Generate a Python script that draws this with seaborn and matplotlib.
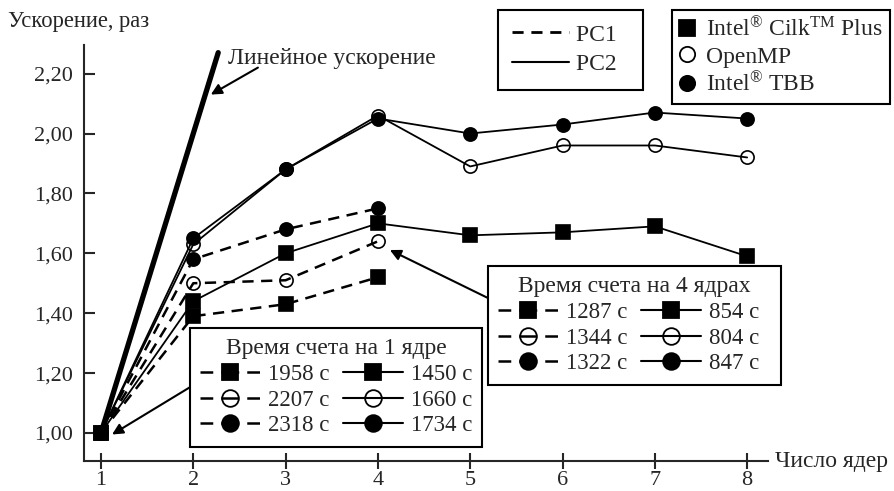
import matplotlib
matplotlib.use("Agg")
import matplotlib.pyplot as plt
from matplotlib.lines import Line2D
import seaborn as sns

# data
cores = [1, 2, 3, 4, 5, 6, 7, 8]
cores_pc1 = [1, 2, 3, 4]
linear_x = [1, 2.27]

pc2_cilk = [1.00, 1.44, 1.60, 1.70, 1.66, 1.67, 1.69, 1.59]
pc2_omp = [1.00, 1.63, 1.88, 2.06, 1.89, 1.96, 1.96, 1.92]
pc2_tbb = [1.00, 1.65, 1.88, 2.05, 2.00, 2.03, 2.07, 2.05]

pc1_cilk = [1.00, 1.39, 1.43, 1.52]
pc1_omp = [1.00, 1.50, 1.51, 1.64]
pc1_tbb = [1.00, 1.58, 1.68, 1.75]

times_1core_pc1 = ["1958 с", "2207 с", "2318 с"]
times_1core_pc2 = ["1450 с", "1660 с", "1734 с"]
times_4core_pc1 = ["1287 с", "1344 с", "1322 с"]
times_4core_pc2 = ["854 с", "804 с", "847 с"]

methods = [r"Intel$^{\circledR}$ Cilk$^{\mathrm{TM}}$ Plus", "OpenMP", r"Intel$^{\circledR}$ TBB"]
y_ticks = [1.0, 1.2, 1.4, 1.6, 1.8, 2.0, 2.2]

sns.set_style("ticks")
plt.rcParams["font.family"] = ["Liberation Serif", "DejaVu Serif"]
plt.rcParams["mathtext.fontset"] = "custom"
plt.rcParams["mathtext.rm"] = "Liberation Serif"
plt.rcParams["mathtext.it"] = "Liberation Serif:italic"

marker_styles = [
    dict(marker="s", markerfacecolor="k"),
    dict(marker="o", markerfacecolor="none"),
    dict(marker="o", markerfacecolor="k"),
]
dash_style = (0, (4.5, 3))
ms = 9.5

fig = plt.figure(figsize=(8.95, 4.91), dpi=100)
ax = fig.add_axes([84 / 895, 30 / 491, 684 / 895, 416 / 491])

# linear speedup
sns.lineplot(x=linear_x, y=linear_x, ax=ax, color="k", linewidth=3.8)

for vals, st in zip([pc1_cilk, pc1_omp, pc1_tbb], marker_styles):
    sns.lineplot(x=cores_pc1, y=vals, ax=ax, color="k", linewidth=1.8,
                 linestyle=dash_style, markersize=ms,
                 markeredgecolor="k", markeredgewidth=1.2, **st)

for vals, st in zip([pc2_cilk, pc2_omp, pc2_tbb], marker_styles):
    sns.lineplot(x=cores, y=vals, ax=ax, color="k", linewidth=1.3,
                 markersize=ms, markeredgecolor="k", markeredgewidth=1.2, **st)

ax.set_xlim(0.816, 8.226)
ax.set_ylim(0.9065, 2.2955)
ax.set_xticks(cores)
ax.set_yticks(y_ticks)
ax.set_yticklabels([f"{v:.2f}".replace(".", ",") for v in y_ticks])
ax.tick_params(axis="x", direction="inout", length=12, width=1.5, labelsize=16, pad=1)
ax.tick_params(axis="y", direction="in", length=8, width=1.5, labelsize=16, pad=8)
for side in ["top", "right"]:
    ax.spines[side].set_visible(False)
for side in ["left", "bottom"]:
    ax.spines[side].set_linewidth(1.5)
ax.set_xlabel("")
ax.set_ylabel("")

fig.text(8 / 895, 1 - 22 / 491, "Ускорение, раз", fontsize=16.3, va="center", ha="left")
fig.text(775 / 895, 1 - 462 / 491, "Число ядер", fontsize=17, va="center", ha="left")

# annotations
ax.text(2.376, 2.252, "Линейное ускорение", fontsize=17, va="center", ha="left")
arrow = dict(arrowstyle="-|>", color="k", lw=1.5, mutation_scale=16, shrinkA=0, shrinkB=0)
ax.annotate("", xy=(2.19, 2.13), xytext=(2.70, 2.22), arrowprops=arrow)
ax.annotate("", xy=(1.12, 0.995), xytext=(1.97, 1.154), arrowprops=arrow)
ax.annotate("", xy=(4.13, 1.611), xytext=(5.19, 1.451), arrowprops=arrow)

frame_kw = dict(frameon=True, fancybox=False, framealpha=1, edgecolor="k",
                borderaxespad=0, loc="upper left")

# PC legend
pc_handles = [Line2D([], [], color="k", lw=2, linestyle=(0, (4, 2.8))),
              Line2D([], [], color="k", lw=1.5)]
leg_pc = fig.legend(pc_handles, ["PC1\u2007", "PC2\u2007"],
                    bbox_to_anchor=(498 / 895, 1 - 10 / 491),
                    fontsize=17, handlelength=2.4, labelspacing=0.35,
                    handletextpad=0.3, borderpad=0.6, **frame_kw)
leg_pc.get_frame().set_linewidth(1.5)

# methods legend
m_handles = [Line2D([], [], color="k", linestyle="none", markersize=11,
                    markeredgecolor="k", markeredgewidth=1.3, **st) for st in marker_styles]
leg_m = fig.legend(m_handles, methods, bbox_to_anchor=(672 / 895, 1 - 10 / 491),
                   fontsize=17, handlelength=0.7, labelspacing=0.2,
                   handletextpad=0.45, borderpad=0.3, **frame_kw)
leg_m.get_frame().set_linewidth(1.5)


def time_legend(labels1, labels2, title, anchor, tail=""):
    handles = []
    for st in marker_styles:
        handles.append(Line2D([], [], color="k", lw=1.8,
                              linestyle=(0, (5.1, 3.2, 7.2, 3.2)),
                              markersize=12, markeredgecolor="k", markeredgewidth=1.3, **st))
    for st in marker_styles:
        handles.append(Line2D([], [], color="k", lw=1.5, markersize=12,
                              markeredgecolor="k", markeredgewidth=1.3, **st))
    labels = labels1 + [lab + tail for lab in labels2]
    leg = fig.legend(handles, labels, ncol=2, title=title,
                     bbox_to_anchor=anchor, fontsize=16.5, title_fontsize=17,
                     handlelength=2.6, labelspacing=0.2, handletextpad=0.35,
                     columnspacing=0.6, borderpad=0.45, **frame_kw)
    leg.get_frame().set_linewidth(1.5)
    return leg


time_legend(times_1core_pc1, times_1core_pc2, "Время счета на 1 ядре",
            (190 / 895, 1 - 328 / 491))
time_legend(times_4core_pc1, times_4core_pc2, "Время счета на 4 ядрах",
            (488 / 895, 1 - 266 / 491), tail="\u2007")

fig.savefig("out.png", dpi=100)
